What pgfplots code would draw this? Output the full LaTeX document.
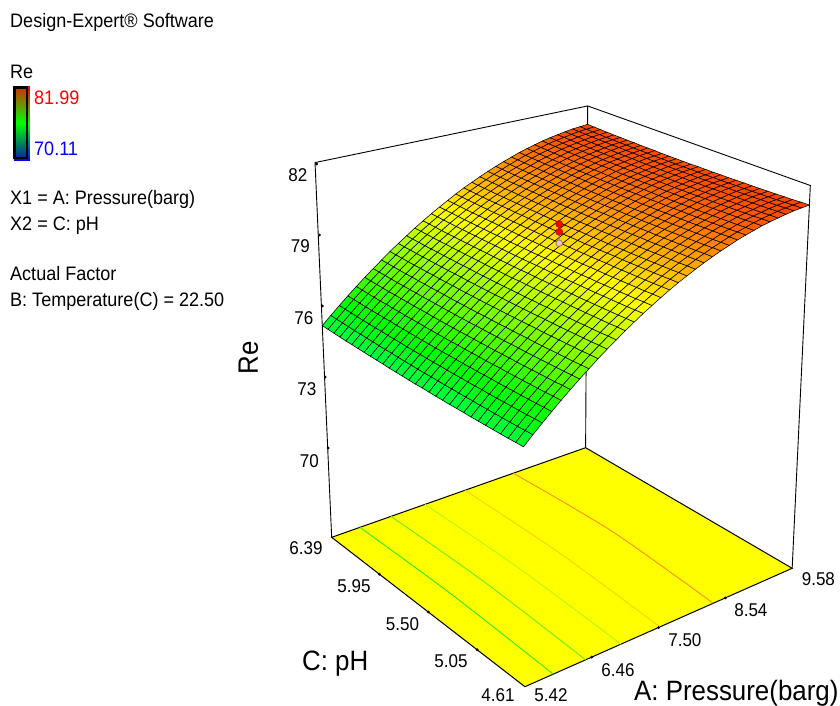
\documentclass[border=0pt]{standalone}
\usepackage{fontspec}
\setmainfont{Liberation Sans}
\usepackage{graphicx}
\usepackage{pgfplots}
\pgfplotsset{compat=1.18}
\definecolor{pyellow}{RGB}{255,255,0}
\definecolor{pgreen}{RGB}{0,255,0}
\definecolor{pred}{RGB}{255,0,0}
\definecolor{pblue}{RGB}{0,0,255}
\definecolor{ppink}{RGB}{250,190,190}
\newcommand\tlab[3]{\node[inner sep=0pt,font=\fontsize{18.5}{18.5}\selectfont] at (axis cs:#1,#2,0) {\scalebox{.92}[1]{#3}};}
\newcommand\blab[5][black]{\node[anchor=base west,inner sep=0pt,text=#1,font=\fontsize{#4}{#4}\selectfont] at (axis cs:#2,#3,0) {\scalebox{.925}[1]{#5}};}
\pgfkeys{/pgfplots/table/proj/.style={x expr={projx(\thisrow{A},\thisrow{pH},\thisrow{Re})},y expr={projy(\thisrow{A},\thisrow{pH},\thisrow{Re})},z expr=0}}
\begin{document}
\begin{tikzpicture}[
 declare function={
  uu(\a)=(\a-5.42)/4.16; vv(\p)=(\p-4.61)/1.78; ww(\r)=(\r-66)/16;
  dn(\a,\p,\r)=1+0.1246*uu(\a)+0.1537*vv(\p)-0.08*ww(\r);
  projx(\a,\p,\r)=(525+366*uu(\a)-142.3*vv(\p)-44.4*ww(\r))/dn(\a,\p,\r);
  projy(\a,\p,\r)=(686.7-47.6*uu(\a)-66.8*vv(\p)-445.3*ww(\r))/dn(\a,\p,\r);
  rowi(\c)=floor((\c+0.5)/34); coli(\c)=\c-34*rowi(\c);
  gridA(\c)=5.42+4.16*coli(\c)/33; gridP(\c)=4.61+1.78*rowi(\c)/30;
 }]
\path[use as bounding box] (0,0) rectangle (840pt,706pt);
\begin{axis}[
 at={(0,0)},anchor=south west,
 scale only axis,width=840pt,height=706pt,
 hide axis,clip=false,view={0}{90},
 xmin=0,xmax=840,ymin=0,ymax=706,zmin=-1,zmax=1,y dir=reverse,
 colormap={de}{rgb255=(0,0,255) rgb255=(0,255,255) rgb255=(0,255,0) rgb255=(255,255,0) rgb255=(255,0,0)},
 point meta min=70.11,point meta max=81.99,
]
% floor
\addplot3[fill=pyellow,draw=black,line width=1pt] table[proj] {
A pH Re
5.42 4.61 66
9.58 4.61 66
9.58 6.39 66
5.42 6.39 66
5.42 4.61 66
};
% contours on the floor
\addplot3[smooth,line width=.9pt,color={rgb,255:red,40;green,235;blue,20}] table[proj] {
A pH Re
5.816 4.61 66
5.862 5.50 66
5.842 6.39 66
};
\addplot3[smooth,line width=.9pt,color={rgb,255:red,105;green,235;blue,20}] table[proj] {
A pH Re
6.282 4.61 66
6.343 5.50 66
6.317 6.39 66
};
\addplot3[smooth,line width=.9pt,color={rgb,255:red,185;green,245;blue,20}] table[proj] {
A pH Re
6.804 4.61 66
6.872 5.50 66
6.850 6.39 66
};
\addplot3[smooth,line width=.9pt,color={rgb,255:red,255;green,205;blue,10}] table[proj] {
A pH Re
7.399 4.61 66
7.500 5.50 66
7.496 6.39 66
};
\addplot3[smooth,line width=.9pt,color={rgb,255:red,255;green,140;blue,20}] table[proj] {
A pH Re
8.247 4.61 66
8.374 5.50 66
8.306 6.39 66
};
% box
\addplot3[black,line width=.9pt] table[proj] {
A pH Re
5.42 6.39 66
5.42 6.39 82
9.58 6.39 82
9.58 6.39 66
};
\addplot3[black,line width=.9pt] table[proj] {
A pH Re
9.58 6.39 82
9.58 4.61 82
9.58 4.61 66
};
% tick marks
\addplot3[only marks,mark=*,mark size=1.2pt,black] table[x expr={331.7-15*(\thisrow{Re}-66.23)/15.77},y expr={537.3-373.3*(\thisrow{Re}-66.23)/15.77},z expr=0] {
Re
82
79
76
73
70
};
\addplot3[only marks,mark=*,mark size=1.2pt,black] table[x expr={525-193.3*(\thisrow{pH}-4.61)/1.78},y expr={686.7-149.4*(\thisrow{pH}-4.61)/1.78},z expr=0] {
pH
5.05
5.50
5.95
};
\addplot3[only marks,mark=*,mark size=1.2pt,black] table[x expr={525+267.3*(\thisrow{A}-5.42)/4.16},y expr={686.7-118.4*(\thisrow{A}-5.42)/4.16},z expr=0] {
A
6.46
7.50
8.54
};
% response surface: one Re per grid node, A runs over 34 levels, pH over 31 levels
\addplot3[surf,shader=faceted,faceted color=black,line width=.55pt,mesh/cols=34,point meta=\thisrow{Re}] table[
 x expr={projx(gridA(\coordindex),gridP(\coordindex),\thisrow{Re})},
 y expr={projy(gridA(\coordindex),gridP(\coordindex),\thisrow{Re})},
 z expr=0] {
Re
75.37
75.70
76.02
76.33
76.63
76.92
77.20
77.47
77.74
77.99
78.23
78.47
78.69
78.91
79.11
79.31
79.50
79.68
79.84
80.00
80.15
80.29
80.42
80.54
80.66
80.76
80.85
80.94
81.01
81.07
81.13
81.18
81.21
81.24
75.36
75.69
76.01
76.32
76.62
76.91
77.19
77.46
77.73
77.98
78.22
78.46
78.68
78.90
79.10
79.30
79.49
79.67
79.83
79.99
80.14
80.28
80.41
80.53
80.65
80.75
80.84
80.93
81.00
81.06
81.12
81.17
81.20
81.23
75.34
75.67
75.99
76.30
76.60
76.89
77.17
77.44
77.71
77.96
78.20
78.44
78.66
78.88
79.08
79.28
79.47
79.65
79.81
79.97
80.12
80.26
80.39
80.51
80.63
80.73
80.82
80.91
80.98
81.04
81.10
81.15
81.18
81.21
75.33
75.66
75.98
76.29
76.59
76.88
77.16
77.43
77.70
77.95
78.19
78.43
78.65
78.87
79.07
79.27
79.46
79.64
79.80
79.96
80.11
80.25
80.38
80.50
80.62
80.72
80.81
80.90
80.97
81.03
81.09
81.14
81.17
81.20
75.32
75.65
75.97
76.28
76.58
76.87
77.15
77.42
77.69
77.94
78.18
78.42
78.64
78.86
79.06
79.26
79.45
79.63
79.79
79.95
80.10
80.24
80.37
80.49
80.61
80.71
80.80
80.89
80.96
81.02
81.08
81.13
81.16
81.19
75.31
75.64
75.96
76.27
76.57
76.86
77.14
77.41
77.68
77.93
78.17
78.41
78.63
78.85
79.05
79.25
79.44
79.62
79.78
79.94
80.09
80.23
80.36
80.48
80.60
80.70
80.79
80.88
80.95
81.01
81.07
81.12
81.15
81.18
75.30
75.63
75.95
76.26
76.56
76.85
77.13
77.40
77.67
77.92
78.16
78.40
78.62
78.84
79.04
79.24
79.43
79.61
79.77
79.93
80.08
80.22
80.35
80.47
80.59
80.69
80.78
80.87
80.94
81.00
81.06
81.11
81.14
81.17
75.29
75.62
75.94
76.25
76.55
76.84
77.12
77.39
77.66
77.91
78.15
78.39
78.61
78.83
79.03
79.23
79.42
79.60
79.76
79.92
80.07
80.21
80.34
80.46
80.58
80.68
80.77
80.86
80.93
80.99
81.05
81.10
81.13
81.16
75.29
75.62
75.94
76.25
76.55
76.84
77.12
77.39
77.66
77.91
78.15
78.39
78.61
78.83
79.03
79.23
79.42
79.60
79.76
79.92
80.07
80.21
80.34
80.46
80.58
80.68
80.77
80.86
80.93
80.99
81.05
81.10
81.13
81.16
75.28
75.61
75.93
76.24
76.54
76.83
77.11
77.38
77.65
77.90
78.14
78.38
78.60
78.82
79.02
79.22
79.41
79.59
79.75
79.91
80.06
80.20
80.33
80.45
80.57
80.67
80.76
80.85
80.92
80.98
81.04
81.09
81.12
81.15
75.27
75.60
75.92
76.23
76.53
76.82
77.10
77.37
77.64
77.89
78.13
78.37
78.59
78.81
79.01
79.21
79.40
79.58
79.74
79.90
80.05
80.19
80.32
80.44
80.56
80.66
80.75
80.84
80.91
80.97
81.03
81.08
81.11
81.14
75.27
75.60
75.92
76.23
76.53
76.82
77.10
77.37
77.64
77.89
78.13
78.37
78.59
78.81
79.01
79.21
79.40
79.58
79.74
79.90
80.05
80.19
80.32
80.44
80.56
80.66
80.75
80.84
80.91
80.97
81.03
81.08
81.11
81.14
75.26
75.59
75.91
76.22
76.52
76.81
77.09
77.36
77.63
77.88
78.12
78.36
78.58
78.80
79.00
79.20
79.39
79.57
79.73
79.89
80.04
80.18
80.31
80.43
80.55
80.65
80.74
80.83
80.90
80.96
81.02
81.07
81.10
81.13
75.26
75.59
75.91
76.22
76.52
76.81
77.09
77.36
77.63
77.88
78.12
78.36
78.58
78.80
79.00
79.20
79.39
79.57
79.73
79.89
80.04
80.18
80.31
80.43
80.55
80.65
80.74
80.83
80.90
80.96
81.02
81.07
81.10
81.13
75.26
75.59
75.91
76.22
76.52
76.81
77.09
77.36
77.63
77.88
78.12
78.36
78.58
78.80
79.00
79.20
79.39
79.57
79.73
79.89
80.04
80.18
80.31
80.43
80.55
80.65
80.74
80.83
80.90
80.96
81.02
81.07
81.10
81.13
75.25
75.58
75.90
76.21
76.51
76.80
77.08
77.35
77.62
77.87
78.11
78.35
78.57
78.79
78.99
79.19
79.38
79.56
79.72
79.88
80.03
80.17
80.30
80.42
80.54
80.64
80.73
80.82
80.89
80.95
81.01
81.06
81.09
81.12
75.25
75.58
75.90
76.21
76.51
76.80
77.08
77.35
77.62
77.87
78.11
78.35
78.57
78.79
78.99
79.19
79.38
79.56
79.72
79.88
80.03
80.17
80.30
80.42
80.54
80.64
80.73
80.82
80.89
80.95
81.01
81.06
81.09
81.12
75.25
75.58
75.90
76.21
76.51
76.80
77.08
77.35
77.62
77.87
78.11
78.35
78.57
78.79
78.99
79.19
79.38
79.56
79.72
79.88
80.03
80.17
80.30
80.42
80.54
80.64
80.73
80.82
80.89
80.95
81.01
81.06
81.09
81.12
75.25
75.58
75.90
76.21
76.51
76.80
77.08
77.35
77.62
77.87
78.11
78.35
78.57
78.79
78.99
79.19
79.38
79.56
79.72
79.88
80.03
80.17
80.30
80.42
80.54
80.64
80.73
80.82
80.89
80.95
81.01
81.06
81.09
81.12
75.25
75.58
75.90
76.21
76.51
76.80
77.08
77.35
77.62
77.87
78.11
78.35
78.57
78.79
78.99
79.19
79.38
79.56
79.72
79.88
80.03
80.17
80.30
80.42
80.54
80.64
80.73
80.82
80.89
80.95
81.01
81.06
81.09
81.12
75.26
75.59
75.91
76.22
76.52
76.81
77.09
77.36
77.63
77.88
78.12
78.36
78.58
78.80
79.00
79.20
79.39
79.57
79.73
79.89
80.04
80.18
80.31
80.43
80.55
80.65
80.74
80.83
80.90
80.96
81.02
81.07
81.10
81.13
75.26
75.59
75.91
76.22
76.52
76.81
77.09
77.36
77.63
77.88
78.12
78.36
78.58
78.80
79.00
79.20
79.39
79.57
79.73
79.89
80.04
80.18
80.31
80.43
80.55
80.65
80.74
80.83
80.90
80.96
81.02
81.07
81.10
81.13
75.26
75.59
75.91
76.22
76.52
76.81
77.09
77.36
77.63
77.88
78.12
78.36
78.58
78.80
79.00
79.20
79.39
79.57
79.73
79.89
80.04
80.18
80.31
80.43
80.55
80.65
80.74
80.83
80.90
80.96
81.02
81.07
81.10
81.13
75.27
75.60
75.92
76.23
76.53
76.82
77.10
77.37
77.64
77.89
78.13
78.37
78.59
78.81
79.01
79.21
79.40
79.58
79.74
79.90
80.05
80.19
80.32
80.44
80.56
80.66
80.75
80.84
80.91
80.97
81.03
81.08
81.11
81.14
75.27
75.60
75.92
76.23
76.53
76.82
77.10
77.37
77.64
77.89
78.13
78.37
78.59
78.81
79.01
79.21
79.40
79.58
79.74
79.90
80.05
80.19
80.32
80.44
80.56
80.66
80.75
80.84
80.91
80.97
81.03
81.08
81.11
81.14
75.28
75.61
75.93
76.24
76.54
76.83
77.11
77.38
77.65
77.90
78.14
78.38
78.60
78.82
79.02
79.22
79.41
79.59
79.75
79.91
80.06
80.20
80.33
80.45
80.57
80.67
80.76
80.85
80.92
80.98
81.04
81.09
81.12
81.15
75.28
75.61
75.93
76.24
76.54
76.83
77.11
77.38
77.65
77.90
78.14
78.38
78.60
78.82
79.02
79.22
79.41
79.59
79.75
79.91
80.06
80.20
80.33
80.45
80.57
80.67
80.76
80.85
80.92
80.98
81.04
81.09
81.12
81.15
75.29
75.62
75.94
76.25
76.55
76.84
77.12
77.39
77.66
77.91
78.15
78.39
78.61
78.83
79.03
79.23
79.42
79.60
79.76
79.92
80.07
80.21
80.34
80.46
80.58
80.68
80.77
80.86
80.93
80.99
81.05
81.10
81.13
81.16
75.30
75.63
75.95
76.26
76.56
76.85
77.13
77.40
77.67
77.92
78.16
78.40
78.62
78.84
79.04
79.24
79.43
79.61
79.77
79.93
80.08
80.22
80.35
80.47
80.59
80.69
80.78
80.87
80.94
81.00
81.06
81.11
81.14
81.17
75.31
75.64
75.96
76.27
76.57
76.86
77.14
77.41
77.68
77.93
78.17
78.41
78.63
78.85
79.05
79.25
79.44
79.62
79.78
79.94
80.09
80.23
80.36
80.48
80.60
80.70
80.79
80.88
80.95
81.01
81.07
81.12
81.15
81.18
75.32
75.65
75.97
76.28
76.58
76.87
77.15
77.42
77.69
77.94
78.18
78.42
78.64
78.86
79.06
79.26
79.45
79.63
79.79
79.95
80.10
80.24
80.37
80.49
80.61
80.71
80.80
80.89
80.96
81.02
81.08
81.13
81.16
81.19
};
% design points
\addplot3[gray,line width=1pt] table[proj] {
A pH Re
7.50 5.50 80.01
7.50 5.50 79.24
};
\addplot3[only marks,mark=*,mark size=3.5pt,mark options={fill=pred,draw=red!70!black,line width=.5pt}] table[proj] {
A pH Re
7.50 5.50 80.01
7.50 5.50 79.70
};
\addplot3[only marks,mark=*,mark size=3.3pt,mark options={fill=ppink,draw=black!60,line width=.5pt}] table[proj] {
A pH Re
7.50 5.50 79.24
};
% labels on the axes
\tlab{298}{175.5}{82}
\tlab{300.5}{246.5}{79}
\tlab{304}{318}{76}
\tlab{307}{389}{73}
\tlab{309.5}{461}{70}
\tlab{306}{548.5}{6.39}
\tlab{354}{586}{5.95}
\tlab{402.5}{624}{5.50}
\tlab{451}{661}{5.05}
\tlab{498}{695.5}{4.61}
\tlab{551}{695.5}{5.42}
\tlab{618}{670}{6.46}
\tlab{685}{640}{7.50}
\tlab{751}{610}{8.54}
\tlab{818.5}{579.5}{9.58}
\node[anchor=base,rotate=90,inner sep=0pt,font=\fontsize{28}{28}\selectfont] at (axis cs:258,358,0) {\scalebox{.925}[1]{Re}};
\blab{302}{670}{28}{C: pH}
\blab{634}{700}{28}{A: Pressure(barg)}
% side text
\blab{10}{28}{19.5}{Design-Expert® Software}
\blab{10}{79}{19.5}{Re}
\blab[pred]{34}{105}{19.5}{81.99}
\blab[pblue]{34}{156}{19.5}{70.11}
\blab{10}{205}{19.5}{X1 = A: Pressure(barg)}
\blab{10}{231}{19.5}{X2 = C: pH}
\blab{10}{281}{19.5}{Actual Factor}
\blab{10}{307}{19.5}{B: Temperature(C) = 22.50}
% colour key
\shade[top color=pred,bottom color=pblue,middle color=pgreen] (axis cs:14,87,0) rectangle (axis cs:30,161,0);
\shade[top color={rgb,255:red,205;green,50;blue,0},bottom color={rgb,255:red,0;green,40;blue,160},middle color=pgreen,draw=black,line width=2.6pt] (axis cs:14.5,87.5,0) rectangle (axis cs:27,158,0);
\end{axis}
\end{tikzpicture}
\end{document}
